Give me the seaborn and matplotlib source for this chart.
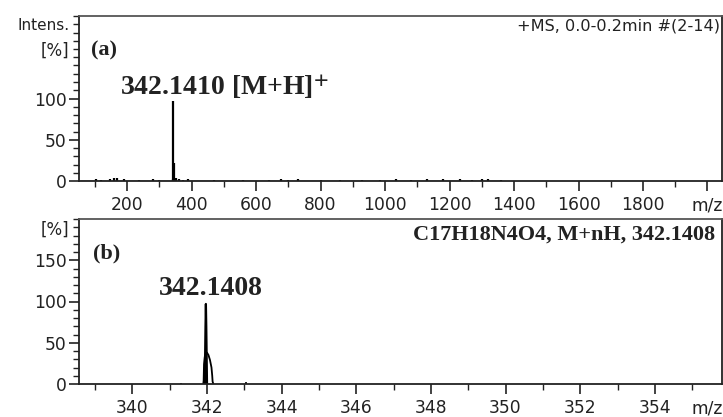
import numpy as np
import pandas as pd
import matplotlib
matplotlib.use("Agg")
import matplotlib.pyplot as plt
from matplotlib.ticker import MultipleLocator, FixedLocator
import seaborn as sns

# ---------------- data ----------------
# (a) full-scan stick spectrum
mz_a = [104, 118, 147, 160, 169, 191, 236, 281, 300, 341.1, 342.14, 347, 352,
        360, 372, 390, 470, 560, 640, 677, 700, 730, 800, 860, 930, 985,
        1035, 1080, 1130, 1180, 1233, 1270, 1300, 1320, 1360]
int_a = [3, 1.5, 3, 4, 4, 2.5, 1, 3, 1, 2, 97, 22, 4,
         2.5, 1.5, 2, 1, 1, 1, 2.5, 1, 2.5, 1, 1, 1, 1,
         2, 1, 2.5, 2.5, 2, 1, 2, 2, 1]

# (b) zoomed profile around the molecular ion
mz_b_hump = [341.90, 341.91, 341.92, 341.94, 341.97, 342.00, 342.04, 342.08, 342.12, 342.14, 342.15, 342.17]
int_b_hump = [0, 4, 24, 33, 37, 38, 35, 29, 20, 10, 3, 0]
mz_b_main = [341.94, 341.96, 341.97, 341.98, 342.00]
int_b_main = [0, 70, 97, 70, 0]
mz_b_minor = [341.30, 343.05]
int_b_minor = [1, 3]

xticks_a = [200, 400, 600, 800, 1000, 1200, 1400, 1600, 1800, 2000]
xticklabels_a = ["200", "400", "600", "800", "1000", "1200", "1400", "1600", "1800", "m/z"]
xticks_b = [340, 342, 344, 346, 348, 350, 352, 354]
yticks_a = [0, 50, 100]
yticks_b = [0, 50, 100, 150]

# ---------------- style ----------------
sns.set_theme(style="ticks")
plt.rcParams["font.family"] = ["DejaVu Sans"]
plt.rcParams["mathtext.fontset"] = "stix"
plt.rcParams["axes.linewidth"] = 1.3
plt.rcParams["axes.edgecolor"] = "#222222"
plt.rcParams["xtick.color"] = "#222222"
plt.rcParams["ytick.color"] = "#222222"

W, H = 723, 417
fig = plt.figure(figsize=(W / 100, H / 100), dpi=100)
fig.patch.set_facecolor("white")

def frac_box(l, t, r, b):
    return [l / W, 1 - b / H, (r - l) / W, (b - t) / H]

ax1 = fig.add_axes(frac_box(79, 16, 722, 181))
ax2 = fig.add_axes(frac_box(79, 219, 722, 384))

serif = ["Liberation Serif", "DejaVu Serif"]
tick_fs = 12.3
txtcol = "#222222"

def style_axis(ax):
    for s in ax.spines.values():
        s.set_visible(True)
        s.set_linewidth(1.3)
    ax.spines["top"].set_color("#555555")
    ax.tick_params(axis="both", which="major", direction="out", length=7, width=1.2,
                   labelsize=tick_fs, pad=2, labelcolor=txtcol)
    ax.tick_params(axis="x", which="major", pad=4)
    ax.tick_params(axis="both", which="minor", direction="out", length=4, width=1.0)
    ax.yaxis.set_minor_locator(MultipleLocator(10))
    ax.set_xlabel("")
    ax.set_ylabel("")
    ax.set_facecolor("white")

# ---- panel (a) ----
ax1.vlines(mz_a, 0, int_a, color="black", linewidth=1.6)
df_a = pd.DataFrame({"mz": [min(mz_a) - 50, max(mz_a)], "i": [0.5, 0.5]})
sns.lineplot(data=df_a, x="mz", y="i", ax=ax1, color="black", linewidth=1.0)
ax1.set_xlim(51, 2045)
ax1.set_ylim(0, 200)
ax1.set_xticks(xticks_a)
ax1.set_xticklabels(xticklabels_a)
ax1.xaxis.set_minor_locator(MultipleLocator(100))
ax1.set_yticks(yticks_a)
style_axis(ax1)

ax1.text(0.018, 0.79, "(a)", transform=ax1.transAxes, family=serif, fontweight="bold",
         fontsize=16, va="center", ha="left", color=txtcol)
ax1.text(0.064, 0.52, r"342.1410 [M+H]$^{\mathbf{+}}$", transform=ax1.transAxes, family=serif,
         fontweight="bold", fontsize=20, va="baseline", ha="left", color=txtcol)
ax1.text(0.997, 0.94, "+MS, 0.0-0.2min #(2-14)", transform=ax1.transAxes,
         fontsize=11.6, va="center", ha="right", color=txtcol)

# ---- panel (b) ----
df_h = pd.DataFrame({"mz": mz_b_hump, "i": int_b_hump})
df_m = pd.DataFrame({"mz": mz_b_main, "i": int_b_main})
sns.lineplot(data=df_h, x="mz", y="i", ax=ax2, color="black", linewidth=1.3,
             estimator=None, sort=False)
sns.lineplot(data=df_m, x="mz", y="i", ax=ax2, color="black", linewidth=1.6,
             estimator=None, sort=False)
ax2.vlines(mz_b_minor, 0, int_b_minor, color="black", linewidth=1.2)
ax2.set_xlim(338.57, 355.8)
ax2.set_ylim(0, 200)
ax2.set_xticks(xticks_b)
ax2.xaxis.set_minor_locator(FixedLocator([339, 341, 343, 345, 347, 349, 351, 353, 355]))
ax2.set_yticks(yticks_b)
style_axis(ax2)

ax2.text(0.022, 0.794, "(b)", transform=ax2.transAxes, family=serif, fontweight="bold",
         fontsize=16, va="center", ha="left", color=txtcol)
ax2.text(342.1, 0.54, "342.1408", transform=ax2.get_xaxis_transform(), family=serif,
         fontweight="bold", fontsize=20, va="baseline", ha="center", color=txtcol)
ax2.text(0.989, 0.903, "C17H18N4O4, M+nH, 342.1408", transform=ax2.transAxes, family=serif,
         fontweight="bold", fontsize=16, va="center", ha="right", color=txtcol)
ax2.annotate("m/z", xy=(355.4, 0), xycoords=ax2.get_xaxis_transform(),
             xytext=(0, -11.5), textcoords="offset points", ha="center", va="top",
             fontsize=tick_fs, color=txtcol)

# axis unit labels
fig.text(70 / W, 1 - 25 / H, "Intens.", ha="right", va="center", fontsize=11, color=txtcol)
fig.text(69 / W, 1 - 51 / H, "[%]", ha="right", va="center", fontsize=12, color=txtcol)
fig.text(69 / W, 1 - 230 / H, "[%]", ha="right", va="center", fontsize=12, color=txtcol)

fig.savefig("out.png", dpi=100, facecolor="white")
